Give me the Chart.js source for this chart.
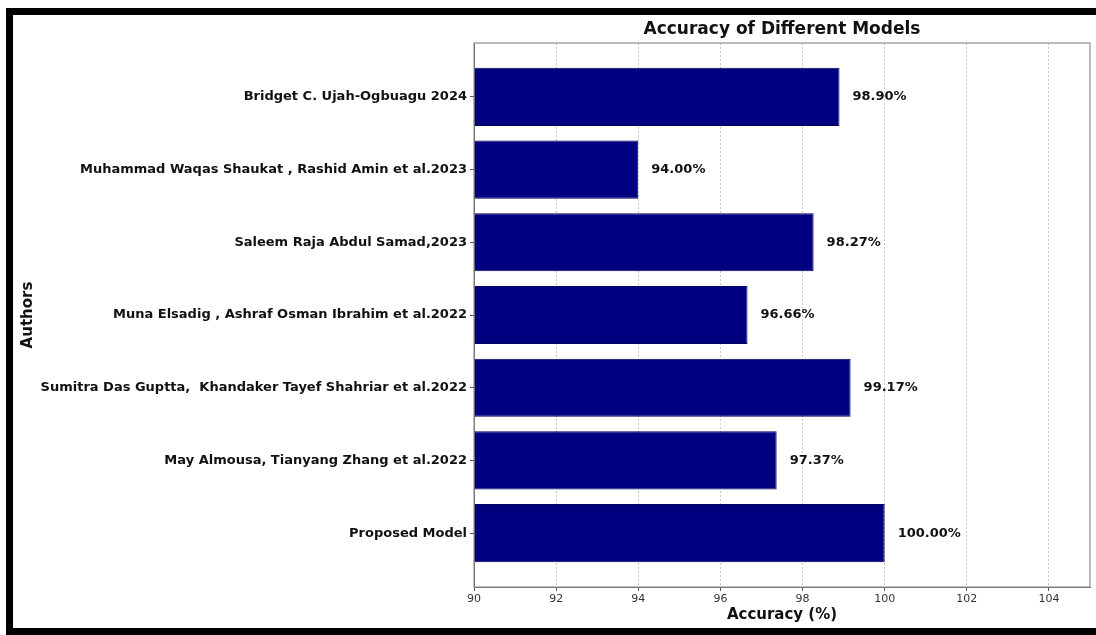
<!DOCTYPE html>
<html>
<head>
<meta charset="utf-8">
<script src="https://cdn.jsdelivr.net/npm/chart.js@4"></script>
<style>
  html, body { margin: 0; padding: 0; background: #fff; }
  canvas { display: block; }
</style>
</head>
<body>
<canvas id="chart" width="1096" height="635"></canvas>
<script>
// data, top to bottom as in the figure
const authors = [
  'Bridget C. Ujah-Ogbuagu 2024',
  'Muhammad Waqas Shaukat , Rashid Amin et al.2023',
  'Saleem Raja Abdul Samad,2023',
  'Muna Elsadig , Ashraf Osman Ibrahim et al.2022',
  'Sumitra Das Guptta,  Khandaker Tayef Shahriar et al.2022',
  'May Almousa, Tianyang Zhang et al.2022',
  'Proposed Model'
];
const accuracy = [98.90, 94.00, 98.27, 96.66, 99.17, 97.37, 100.00];
const xTicks = [90, 92, 94, 96, 98, 100, 102, 104];
const xMin = 90;
const xMax = 105;

const FONT = 'DejaVu Sans';

// black photo frame + plot box + title + value labels
const decorations = {
  id: 'decorations',
  beforeDraw(chart) {
    const ctx = chart.ctx;
    ctx.save();
    ctx.fillStyle = '#fff';
    ctx.fillRect(0, 0, chart.width, chart.height);
    ctx.fillStyle = '#000';
    ctx.fillRect(6, 8, chart.width - 6, 7);     // top
    ctx.fillRect(6, 8, 7, chart.height - 8);    // left
    ctx.fillRect(6, 628, chart.width - 6, 7);   // bottom
    ctx.restore();
  },
  afterDraw(chart) {
    const { ctx, chartArea } = chart;
    const xs = chart.scales.x, ys = chart.scales.y;
    ctx.save();
    ctx.strokeStyle = '#7a7a7a';
    ctx.lineWidth = 1;
    ctx.strokeRect(chartArea.left, chartArea.top, chartArea.right - chartArea.left, chartArea.bottom - chartArea.top);

    ctx.fillStyle = '#111';
    ctx.font = 'bold 17px "' + FONT + '"';
    ctx.textAlign = 'center';
    ctx.textBaseline = 'middle';
    ctx.fillText('Accuracy of Different Models', (chartArea.left + chartArea.right) / 2, 30);

    ctx.font = 'bold 13px "' + FONT + '"';
    ctx.textAlign = 'left';
    accuracy.forEach((v, i) => {
      ctx.fillText(v.toFixed(2) + '%', xs.getPixelForValue(v) + 13, ys.getPixelForValue(i));
    });
    ctx.restore();
  }
};

new Chart(document.getElementById('chart'), {
  type: 'bar',
  data: {
    datasets: [{
      data: accuracy.map((v, i) => ({ x: v, y: i })),
      base: xMin,
      backgroundColor: '#000080',
      borderColor: '#00005a',
      borderWidth: 1,
      barPercentage: 1,
      categoryPercentage: 0.8
    }]
  },
  options: {
    indexAxis: 'y',
    responsive: false,
    animation: false,
    devicePixelRatio: 1,
    layout: { padding: { top: 43, right: 6, left: 0, bottom: 0 } },
    plugins: {
      legend: { display: false },
      tooltip: { enabled: false }
    },
    scales: {
      x: {
        type: 'linear',
        position: 'bottom',
        min: xMin,
        max: xMax,
        afterBuildTicks(scale) { scale.ticks = xTicks.map(v => ({ value: v })); },
        afterFit(scale) { scale.height = 48; },
        ticks: { color: '#333', font: { family: FONT, size: 11 }, padding: 2 },
        grid: {
          color: 'rgba(150,150,150,0.55)',
          tickBorderDash: [],
          tickColor: '#555',
          tickLength: 4
        },
        border: { display: true, color: '#7a7a7a', dash: [2, 2] },
        title: {
          display: true,
          text: 'Accuracy (%)',
          color: '#111',
          font: { family: FONT, size: 15, weight: 'bold' },
          padding: { top: 0, bottom: 11 }
        }
      },
      y: {
        type: 'linear',
        reverse: true,
        offset: false,
        min: -0.74,
        max: 6.74,
        afterBuildTicks(scale) { scale.ticks = authors.map((a, i) => ({ value: i })); },
        afterFit(scale) { scale.width = 474; },
        ticks: {
          color: '#111',
          font: { family: FONT, size: 13, weight: 'bold' },
          padding: 3,
          autoSkip: false,
          callback: (v) => authors[v]
        },
        grid: { offset: false, drawOnChartArea: false, tickColor: '#555', tickLength: 4 },
        border: { display: true, color: '#7a7a7a' },
        title: {
          display: true,
          text: 'Authors',
          color: '#111',
          font: { family: FONT, size: 15, weight: 'bold' },
          padding: { top: 19, bottom: 0 }
        }
      }
    }
  },
  plugins: [decorations]
});
</script>
</body>
</html>
